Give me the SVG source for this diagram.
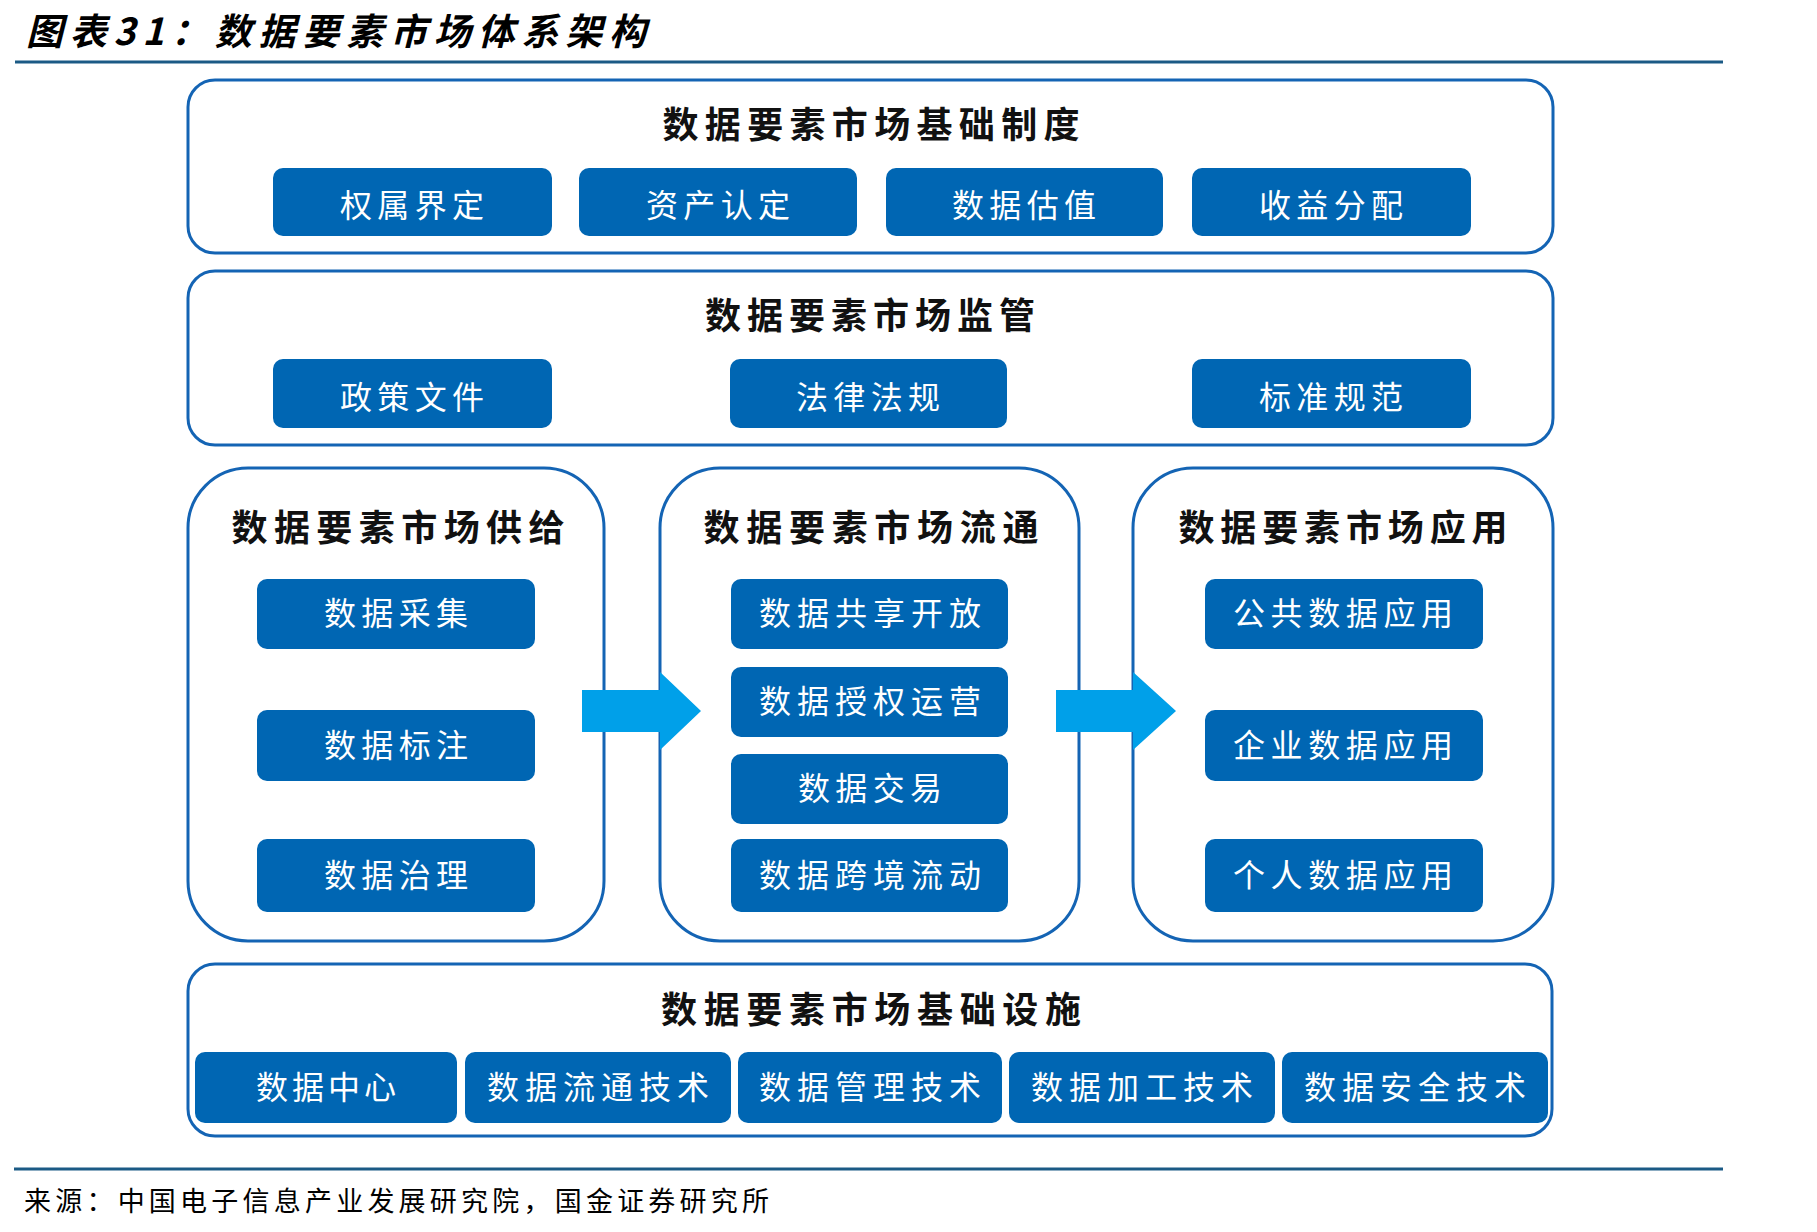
<svg xmlns="http://www.w3.org/2000/svg" width="1817" height="1232" viewBox="0 0 1817 1232">
<style>
.frame{fill:#fff;stroke:#1464B4;stroke-width:3}
.btn{fill:#0066B3}
.bt{font-family:"Noto Sans CJK SC","Noto Sans",sans-serif;font-size:32px;fill:#fff;text-anchor:middle;dominant-baseline:central}
.st{font-family:"Noto Sans CJK SC","Noto Sans",sans-serif;font-size:36px;font-weight:bold;fill:#111;text-anchor:middle;dominant-baseline:central}
.rule{stroke:#1B5A85;stroke-width:3}
.arrow{fill:#00A0E9}
</style>
<rect width="1817" height="1232" fill="#fff"/>
<g id="header">
<text x="26" y="29" font-family="'Noto Sans CJK SC',sans-serif" font-size="37" font-weight="bold" font-style="italic" fill="#000" dominant-baseline="central" textLength="620" lengthAdjust="spacing">图表31：数据要素市场体系架构</text>
<line class="rule" x1="15" y1="62" x2="1723" y2="62"/>
</g>

<g id="institution">
<rect class="frame" x="188" y="80" width="1365" height="173" rx="27"/>
<text class="st" x="871" y="122" textLength="417" lengthAdjust="spacing">数据要素市场基础制度</text>
<g id="n-quanshu"><rect class="btn" x="273" y="168" width="279" height="68" rx="10"/><text class="bt" x="412" y="203" textLength="144" lengthAdjust="spacing">权属界定</text></g>
<g id="n-zichan"><rect class="btn" x="579" y="168" width="278" height="68" rx="10"/><text class="bt" x="718" y="203" textLength="144" lengthAdjust="spacing">资产认定</text></g>
<g id="n-guzhi"><rect class="btn" x="886" y="168" width="277" height="68" rx="10"/><text class="bt" x="1024" y="203" textLength="144" lengthAdjust="spacing">数据估值</text></g>
<g id="n-shouyi"><rect class="btn" x="1192" y="168" width="279" height="68" rx="10"/><text class="bt" x="1331" y="203" textLength="144" lengthAdjust="spacing">收益分配</text></g>
</g>

<g id="regulation">
<rect class="frame" x="188" y="271" width="1365" height="174" rx="27"/>
<text class="st" x="870" y="313" textLength="330" lengthAdjust="spacing">数据要素市场监管</text>
<g id="n-zhengce"><rect class="btn" x="273" y="359" width="279" height="69" rx="10"/><text class="bt" x="412" y="395" textLength="144" lengthAdjust="spacing">政策文件</text></g>
<g id="n-falv"><rect class="btn" x="730" y="359" width="277" height="69" rx="10"/><text class="bt" x="868" y="395" textLength="144" lengthAdjust="spacing">法律法规</text></g>
<g id="n-biaozhun"><rect class="btn" x="1192" y="359" width="279" height="69" rx="10"/><text class="bt" x="1331" y="395" textLength="144" lengthAdjust="spacing">标准规范</text></g>
</g>

<g id="supply">
<rect class="frame" x="188" y="468" width="416" height="473" rx="60"/>
<text class="st" x="398" y="525" textLength="333" lengthAdjust="spacing">数据要素市场供给</text>
<g id="n-caiji"><rect class="btn" x="257" y="579" width="278" height="70" rx="10"/><text class="bt" x="396" y="611" textLength="144" lengthAdjust="spacing">数据采集</text></g>
<g id="n-biaozhu"><rect class="btn" x="257" y="710" width="278" height="71" rx="10"/><text class="bt" x="396" y="743" textLength="144" lengthAdjust="spacing">数据标注</text></g>
<g id="n-zhili"><rect class="btn" x="257" y="839" width="278" height="73" rx="10"/><text class="bt" x="396" y="873" textLength="144" lengthAdjust="spacing">数据治理</text></g>
</g>

<g id="circulation">
<rect class="frame" x="660" y="468" width="419" height="473" rx="60"/>
<text class="st" x="871" y="525" textLength="335" lengthAdjust="spacing">数据要素市场流通</text>
<g id="n-gongxiang"><rect class="btn" x="731" y="579" width="277" height="70" rx="10"/><text class="bt" x="870" y="611" textLength="222" lengthAdjust="spacing">数据共享开放</text></g>
<g id="n-shouquan"><rect class="btn" x="731" y="667" width="277" height="70" rx="10"/><text class="bt" x="870" y="699" textLength="222" lengthAdjust="spacing">数据授权运营</text></g>
<g id="n-jiaoyi"><rect class="btn" x="731" y="754" width="277" height="70" rx="10"/><text class="bt" x="870" y="786" textLength="144" lengthAdjust="spacing">数据交易</text></g>
<g id="n-kuajing"><rect class="btn" x="731" y="839" width="277" height="73" rx="10"/><text class="bt" x="870" y="873" textLength="222" lengthAdjust="spacing">数据跨境流动</text></g>
</g>

<g id="application">
<rect class="frame" x="1133" y="468" width="420" height="473" rx="60"/>
<text class="st" x="1343" y="525" textLength="329" lengthAdjust="spacing">数据要素市场应用</text>
<g id="n-gonggong"><rect class="btn" x="1205" y="579" width="278" height="70" rx="10"/><text class="bt" x="1343" y="611" textLength="220" lengthAdjust="spacing">公共数据应用</text></g>
<g id="n-qiye"><rect class="btn" x="1205" y="710" width="278" height="71" rx="10"/><text class="bt" x="1343" y="743" textLength="220" lengthAdjust="spacing">企业数据应用</text></g>
<g id="n-geren"><rect class="btn" x="1205" y="839" width="278" height="73" rx="10"/><text class="bt" x="1343" y="873" textLength="220" lengthAdjust="spacing">个人数据应用</text></g>
</g>

<g id="infrastructure">
<rect class="frame" x="188" y="964" width="1364" height="172" rx="27"/>
<text class="st" x="871" y="1007" textLength="420" lengthAdjust="spacing">数据要素市场基础设施</text>
<g id="n-zhongxin"><rect class="btn" x="195" y="1052" width="262" height="71" rx="10"/><text class="bt" x="326" y="1085" textLength="140" lengthAdjust="spacing">数据中心</text></g>
<g id="n-liutong"><rect class="btn" x="465" y="1052" width="266" height="71" rx="10"/><text class="bt" x="598" y="1085" textLength="222" lengthAdjust="spacing">数据流通技术</text></g>
<g id="n-guanli"><rect class="btn" x="738" y="1052" width="264" height="71" rx="10"/><text class="bt" x="870" y="1085" textLength="222" lengthAdjust="spacing">数据管理技术</text></g>
<g id="n-jiagong"><rect class="btn" x="1009" y="1052" width="266" height="71" rx="10"/><text class="bt" x="1142" y="1085" textLength="222" lengthAdjust="spacing">数据加工技术</text></g>
<g id="n-anquan"><rect class="btn" x="1282" y="1052" width="266" height="71" rx="10"/><text class="bt" x="1415" y="1085" textLength="222" lengthAdjust="spacing">数据安全技术</text></g>
</g>

<g id="connectors">
<polygon class="arrow" points="582,690 660,690 660,672 701,711 660,750 660,732 582,732"/>
<polygon class="arrow" points="1056,690 1133,690 1133,672 1176,711 1133,750 1133,732 1056,732"/>
</g>

<g id="footer">
<line class="rule" x1="14" y1="1169" x2="1723" y2="1169"/>
<text x="24" y="1199" font-family="'Noto Sans CJK SC',sans-serif" font-size="27" fill="#000" dominant-baseline="central" textLength="745" lengthAdjust="spacing">来源：中国电子信息产业发展研究院，国金证券研究所</text>
</g>
</svg>
